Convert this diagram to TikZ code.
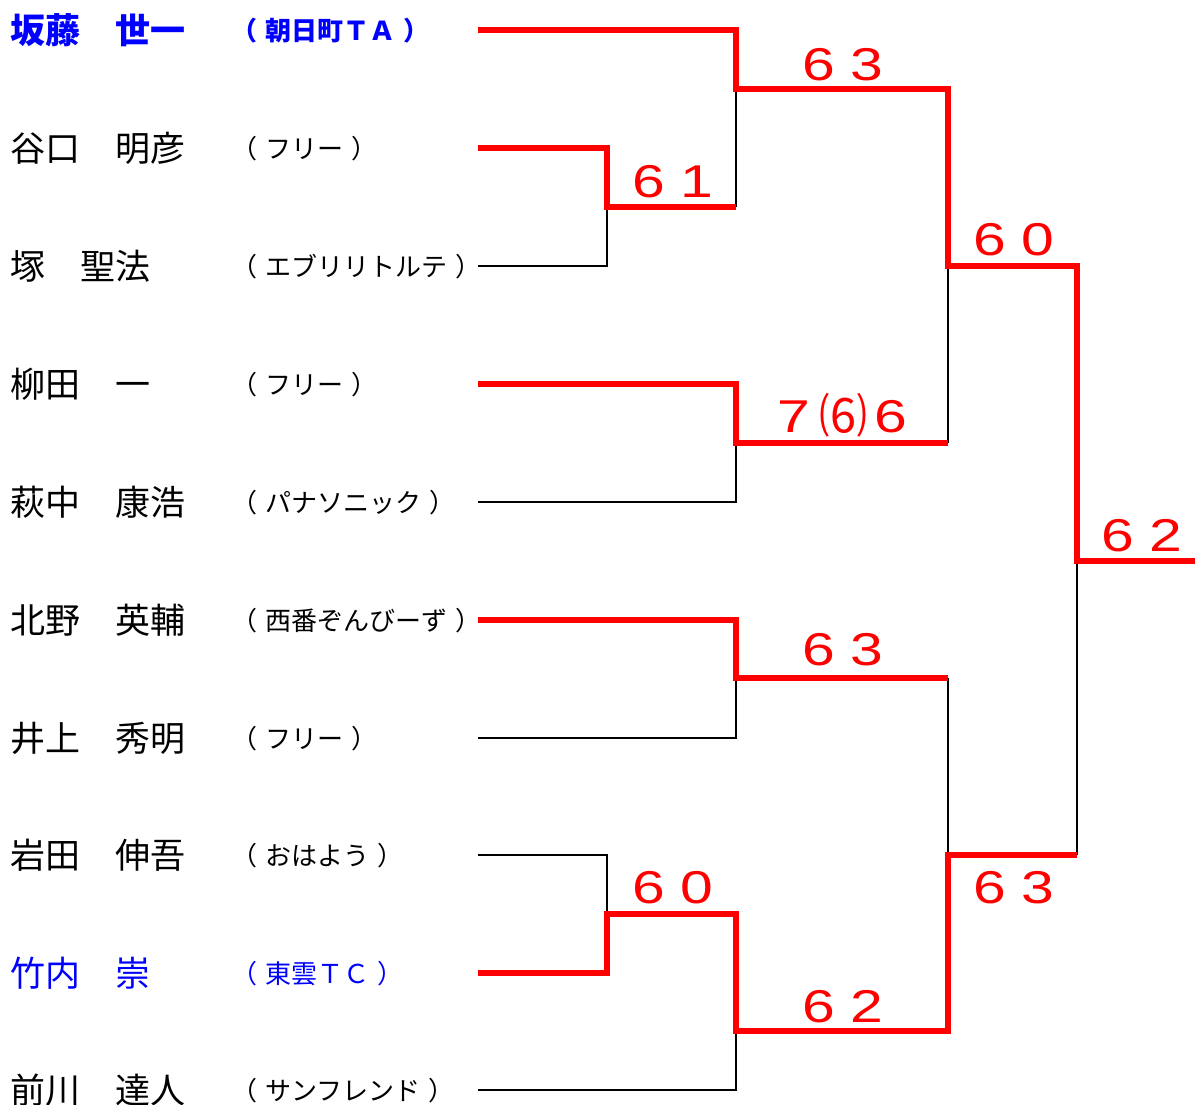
\documentclass[tikz,border=0pt]{standalone}
\usepackage{fontspec}
\newfontfamily\jpn{Noto Sans CJK JP}
\newfontfamily\dig{Liberation Sans}
\definecolor{wred}{RGB}{255,0,0}
\definecolor{wblue}{RGB}{0,0,255}
\newcommand{\dg}[1]{\scalebox{1.28}[1]{#1}}
\newcommand{\twodig}[2]{\makebox[48pt][l]{\dg{#1}}\dg{#2}}
\newcommand{\lp}{（\hspace{8pt}}
\newcommand{\rp}{\hspace{8pt}）}
\begin{document}
\begin{tikzpicture}[x=1pt,y=-1pt,
  win/.style={draw=wred, line width=5.5pt},
  lose/.style={draw=black, line width=1.8pt},
  nm/.style={anchor=base west, inner sep=0pt, font=\jpn\fontsize{35}{35}\selectfont},
  club/.style={anchor=base west, inner sep=0pt, font=\jpn\fontsize{26}{26}\selectfont},
  score/.style={anchor=base west, inner sep=0pt, text=wred, font=\dig\fontsize{46}{46}\selectfont},
  hi/.style={text=wblue}]
\useasboundingbox (0,0) rectangle (1195,1104);
% names
\node[nm,hi,font=\jpn\bfseries\fontsize{35}{35}\selectfont] (n1) at (10,43) {坂藤　世一};
\node[nm] (n2) at (10,161) {谷口　明彦};
\node[nm] (n3) at (10,279) {塚　聖法};
\node[nm] (n4) at (10,397) {柳田　一};
\node[nm] (n5) at (10,515) {萩中　康浩};
\node[nm] (n6) at (10,633) {北野　英輔};
\node[nm] (n7) at (10,751) {井上　秀明};
\node[nm] (n8) at (10,868) {岩田　伸吾};
\node[nm,hi] (n9) at (10,986) {竹内　崇};
\node[nm] (n10) at (10,1103) {前川　達人};
% clubs
\node[club,hi,font=\jpn\bfseries\fontsize{26}{26}\selectfont] (c1) at (231,40) {\lp 朝日町ＴＡ\rp};
\node[club] (c2) at (231,158) {\lp フリー\rp};
\node[club] (c3) at (231,276) {\lp エブリリトルテ\rp};
\node[club] (c4) at (231,394) {\lp フリー\rp};
\node[club] (c5) at (231,512) {\lp パナソニック\rp};
\node[club] (c6) at (231,630) {\lp 西番ぞんびーず\rp};
\node[club] (c7) at (231,748) {\lp フリー\rp};
\node[club] (c8) at (231,865) {\lp おはよう\rp};
\node[club,hi] (c9) at (231,983) {\lp 東雲ＴＣ\rp};
\node[club] (c10) at (231,1100) {\lp サンフレンド\rp};
% bracket points
\coordinate (p1) at (478,30);
\coordinate (p2) at (478,148);
\coordinate (p3) at (478,266);
\coordinate (p4) at (478,384);
\coordinate (p5) at (478,502);
\coordinate (p6) at (478,620);
\coordinate (p7) at (478,738);
\coordinate (p8) at (478,855);
\coordinate (p9) at (478,973);
\coordinate (p10) at (478,1090);
\coordinate (A) at (607,207);  \coordinate (A') at (736,207);
\coordinate (B) at (736,89);   \coordinate (B') at (948,89);
\coordinate (C) at (736,443);  \coordinate (C') at (948,443);
\coordinate (D) at (948,266);  \coordinate (D') at (1077,266);
\coordinate (E) at (736,678);  \coordinate (E') at (948,678);
\coordinate (F) at (607,914);  \coordinate (F') at (736,914);
\coordinate (G) at (736,1031); \coordinate (G') at (948,1031);
\coordinate (H) at (948,855);  \coordinate (H') at (1077,855);
\coordinate (W) at (1077,561); \coordinate (W') at (1195,561);
% losing lines
\draw[lose] (p3) -| (A);
\draw[lose] (A') -- (B);
\draw[lose] (p5) -| (C);
\draw[lose] (C') -- (D);
\draw[lose] (p7) -| (E);
\draw[lose] (E') -- (H);
\draw[lose] (p8) -| (F);
\draw[lose] (p10) -| (G);
\draw[lose] (H') -- (W);
% winning lines
\draw[win] (p1) -| (B) -- (B') -- (D) -- (D') -- (W) -- (W');
\draw[win] (p2) -| (A) -- (A');
\draw[win] (p4) -| (C) -- (C');
\draw[win] (p6) -| (E) -- (E');
\draw[win] (p9) -| (F) -- (F') -- (G) -- (G') -- (H) -- (H');
% scores
\node[score] (sB) at (802.5,80) {\twodig{6}{3}};
\node[score] (sA) at (632.5,197) {\twodig{6}{1}};
\node[score] (sD) at (973.5,255) {\twodig{6}{0}};
\node[score] (sC) at (777.5,432) {\makebox[42pt][l]{\dg{7}}\makebox[55pt][l]{\raisebox{-1pt}{\jpn\fontsize{48}{48}\selectfont ⑹}}\dg{6}};
\node[score] (sW) at (1101.5,551) {\twodig{6}{2}};
\node[score] (sE) at (802.5,665) {\twodig{6}{3}};
\node[score] (sF) at (632.5,903) {\twodig{6}{0}};
\node[score] (sG) at (802.5,1022) {\twodig{6}{2}};
\node[score] (sH) at (973.5,903) {\twodig{6}{3}};
\end{tikzpicture}
\end{document}
